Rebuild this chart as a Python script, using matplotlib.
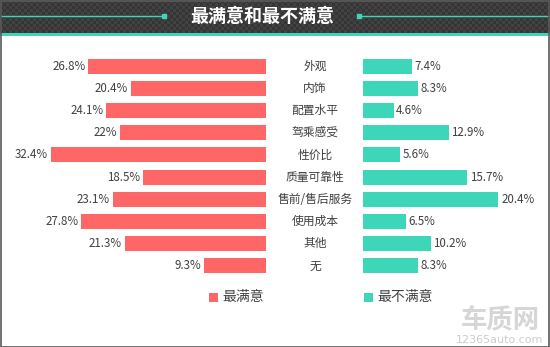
import numpy as np
import matplotlib
matplotlib.use("Agg")
import matplotlib.pyplot as plt
import matplotlib.transforms as mtransforms
from matplotlib.patches import Rectangle

plt.rcParams['font.family'] = ['Noto Sans CJK SC', 'DejaVu Sans']

# データ
categories = ["外观", "内饰", "配置水平", "驾乘感受", "性价比", "质量可靠性", "售前/售后服务", "使用成本", "其他", "无"]
satisfied = [26.8, 20.4, 24.1, 22, 32.4, 18.5, 23.1, 27.8, 21.3, 9.3]
dissatisfied = [7.4, 8.3, 4.6, 12.9, 5.6, 15.7, 20.4, 6.5, 10.2, 8.3]
series_names = ["最满意", "最不满意"]
title = "最满意和最不满意"

red = "#ff6666"
teal = "#3dd6b9"
text_color = "#404040"

W, H = 550, 347
fig = plt.figure(figsize=(W / 100, H / 100), dpi=100)
fig.patch.set_facecolor("white")

def px_box(x0, y0, x1, y1):
    # ピクセル座標（上原点）を figure 座標に変換
    return [x0 / W, 1 - y1 / H, (x1 - x0) / W, (y1 - y0) / H]

# ヘッダー（市松模様）
ax_head = fig.add_axes(px_box(0, 0, W, 33))
checker = (np.indices((11, 184)).sum(axis=0) % 2).astype(float)
ax_head.imshow(checker, cmap=matplotlib.colors.ListedColormap(["#353535", "#424242"]),
               aspect="auto", interpolation="nearest", extent=(0, W, 33, 0))
ax_head.set_xlim(0, W)
ax_head.set_ylim(33, 0)
ax_head.plot([1, 164], [16, 16], color=teal, lw=1)
ax_head.plot([359, W], [16, 16], color=teal, lw=1)
ax_head.plot([164, 359], [16, 16], color=teal, lw=0, marker="s", ms=2.5)
ax_head.text(262, 16.5, title, color="white", fontsize=13, fontweight="bold",
             ha="center", va="center")
ax_head.axis("off")

# ヘッダー下のライン
fig.patches.append(Rectangle((0, 1 - 36 / H), 1, 3 / H, transform=fig.transFigure,
                             facecolor=teal, edgecolor="none"))

# 左側：最満意
scale = 6.64  # px per %
ax_l = fig.add_axes(px_box(20, 55, 266, 277))
y = np.arange(len(categories))
ax_l.barh(y, satisfied, height=0.68, color=red)
ax_l.set_xlim(246 / scale, 0)
ax_l.set_ylim(len(categories) - 0.5, -0.5)
for i, v in enumerate(satisfied):
    ax_l.text(v + 0.4, i, f"{v:g}%", ha="right", va="center", fontsize=8.3, color=text_color)
ax_l.axis("off")

# 右側：最不満意
ax_r = fig.add_axes(px_box(363, 55, 540, 277))
ax_r.barh(y, dissatisfied, height=0.68, color=teal)
ax_r.set_xlim(0, 177 / scale)
ax_r.set_ylim(len(categories) - 0.5, -0.5)
for i, v in enumerate(dissatisfied):
    ax_r.text(v + 0.4, i, f"{v:g}%", ha="left", va="center", fontsize=8.3, color=text_color)
ax_r.axis("off")

# カテゴリラベル
trans = mtransforms.blended_transform_factory(fig.transFigure, ax_l.transData)
for i, c in enumerate(categories):
    fig.text(315 / W, i, c, transform=trans, ha="center", va="center",
             fontsize=8.5, color=text_color)

# 凡例
for sx, name, col in [(209, series_names[0], red), (364, series_names[1], teal)]:
    fig.patches.append(Rectangle((sx / W, 1 - 302 / H), 9 / W, 9 / H,
                                 transform=fig.transFigure, facecolor=col, edgecolor="none"))
    fig.text((sx + 13) / W, 1 - 297 / H, name, ha="left", va="center",
             fontsize=10, color=text_color)

# ウォーターマーク
fig.text(500 / W, 1 - 321 / H, "车质网", ha="center", va="center", fontsize=19,
         fontweight="bold", color="#d6d6d6")
fig.text(500 / W, 1 - 340 / H, "12365auto.com", ha="center", va="center", fontsize=8,
         color="#cccccc", family="DejaVu Sans")

# 外枠
fig.patches.append(Rectangle((0.5 / W, 0.5 / H), (W - 1.5) / W, (H - 1.5) / H,
                             transform=fig.transFigure, facecolor="none",
                             edgecolor="#5a5a5a", lw=1.2))

fig.savefig("out.png", dpi=100)
